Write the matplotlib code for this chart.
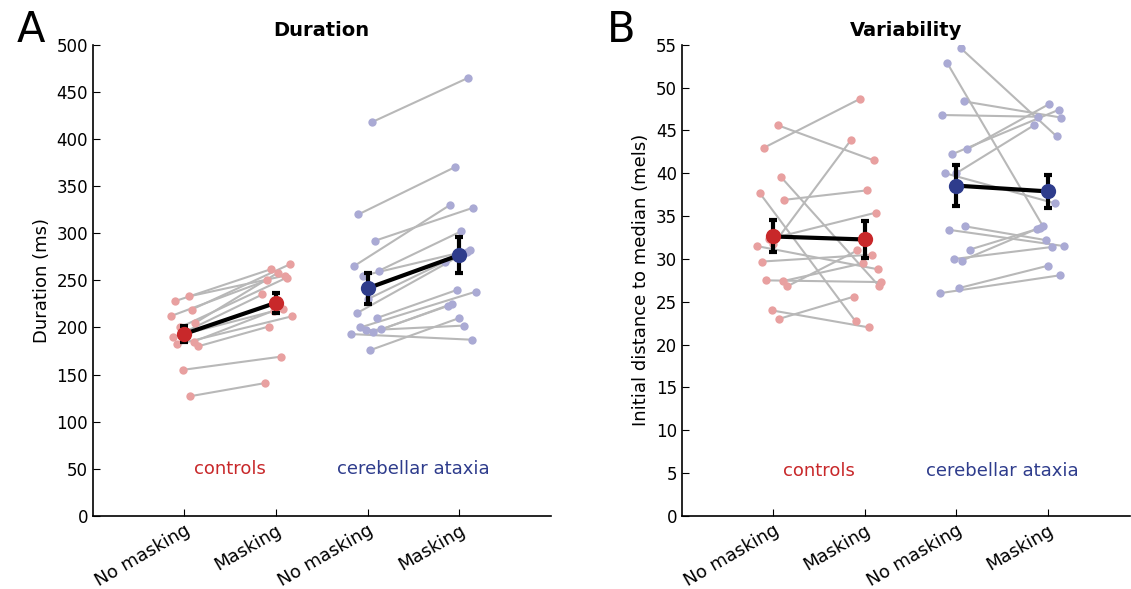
import numpy as np
import matplotlib
matplotlib.use("Agg")
import matplotlib.pyplot as plt

# Duration (ms)
dur_ctrl_pre = [233, 228, 219, 212, 205, 200, 195, 190, 185, 182, 180, 155, 127]
dur_ctrl_post = [255, 262, 267, 250, 258, 253, 235, 220, 218, 212, 201, 169, 141]
dur_atx_pre = [418, 320, 292, 265, 260, 255, 230, 215, 210, 200, 198, 197, 195, 193, 176]
dur_atx_post = [465, 370, 327, 330, 302, 282, 270, 280, 240, 238, 225, 202, 223, 187, 210]

# Variability (mels)
var_ctrl_pre = [45.6, 43.0, 39.6, 37.7, 36.9, 32.3, 31.7, 29.7, 27.4, 27.5, 26.8, 24.0, 23.0, 31.5]
var_ctrl_post = [41.5, 48.7, 26.9, 22.7, 38.0, 35.4, 43.9, 30.5, 29.5, 27.3, 31.0, 22.0, 25.6, 28.8]
var_atx_pre = [54.6, 52.9, 48.4, 46.8, 42.8, 42.2, 40.0, 40.0, 33.8, 33.4, 31.1, 30.0, 29.8, 26.0, 26.6]
var_atx_post = [44.3, 33.8, 46.5, 46.6, 48.1, 47.4, 45.6, 36.5, 32.2, 31.5, 33.6, 31.4, 33.5, 28.1, 29.2]

conditions = ["No masking", "Masking", "No masking", "Masking"]
groups = ["controls", "cerebellar ataxia"]

jit_pre = [0.05, -0.1, 0.08, -0.15, 0.12, -0.05, 0.0, -0.12, 0.1, -0.08, 0.15, -0.02, 0.06, -0.18, 0.03]
jit_post = [0.1, -0.05, 0.15, -0.1, 0.02, 0.12, -0.15, 0.08, -0.02, 0.18, -0.08, 0.05, -0.12, 0.14, 0.0]

RED_L, RED_D = "#e8a0a0", "#c8282a"
BLU_L, BLU_D = "#aaaad4", "#2e3c8c"


def draw_group(ax, x0, pre, post, light, dark):
    n = len(pre)
    for i in range(n):
        xa, xb = x0 + jit_pre[i], x0 + 1 + jit_post[i]
        ax.plot([xa, xb], [pre[i], post[i]], color="#b8b8b8", lw=1.5, zorder=1)
        ax.plot([xa, xb], [pre[i], post[i]], "o", color=light, ms=6, mec="none", zorder=2)
    m = [np.mean(pre), np.mean(post)]
    se = [np.std(pre, ddof=1) / np.sqrt(n), np.std(post, ddof=1) / np.sqrt(n)]
    ax.errorbar([x0, x0 + 1], m, yerr=se, color="black", lw=3, elinewidth=3,
                capsize=3, capthick=3, zorder=3)
    ax.plot([x0, x0 + 1], m, "o", color=dark, ms=11, mec="none", zorder=4)


fig = plt.figure(figsize=(11.31, 5.89), dpi=100)
axA = fig.add_axes([0.082, 0.124, 0.405, 0.8])
axB = fig.add_axes([0.603, 0.124, 0.396, 0.8])

draw_group(axA, 1, dur_ctrl_pre, dur_ctrl_post, RED_L, RED_D)
draw_group(axA, 3, dur_atx_pre, dur_atx_post, BLU_L, BLU_D)
draw_group(axB, 1, var_ctrl_pre, var_ctrl_post, RED_L, RED_D)
draw_group(axB, 3, var_atx_pre, var_atx_post, BLU_L, BLU_D)

for ax, ylim, step, ylab, title, grp_y, xmax, letter in [
        (axA, 500, 50, "Duration (ms)", "Duration", 50, 5, "A"),
        (axB, 55, 5, "Initial distance to median (mels)", "Variability", 5.3, 4.9, "B")]:
    ax.set_xlim(0, xmax)
    ax.set_ylim(0, ylim)
    ax.set_yticks(np.arange(0, ylim + 1e-6, step))
    ax.set_xticks([1, 2, 3, 4])
    ax.set_xticklabels(conditions, rotation=30, ha="right", rotation_mode="anchor", fontsize=13)
    ax.tick_params(axis="y", labelsize=12, direction="in", length=5)
    ax.tick_params(axis="x", direction="in", length=5)
    ax.spines[["top", "right"]].set_visible(False)
    for s in ["left", "bottom"]:
        ax.spines[s].set_linewidth(1.2)
    ax.set_ylabel(ylab, fontsize=13)
    ax.set_title(title, fontsize=14, fontweight="bold")
    ax.text(1.5, grp_y, groups[0], color=RED_D, ha="center", va="center", fontsize=13)
    ax.text(3.5, grp_y, groups[1], color=BLU_D, ha="center", va="center", fontsize=13)
    ax.text(-0.135, 1.075, letter, transform=ax.transAxes, fontsize=30, ha="center", va="top")

fig.savefig("out.png", dpi=100)
